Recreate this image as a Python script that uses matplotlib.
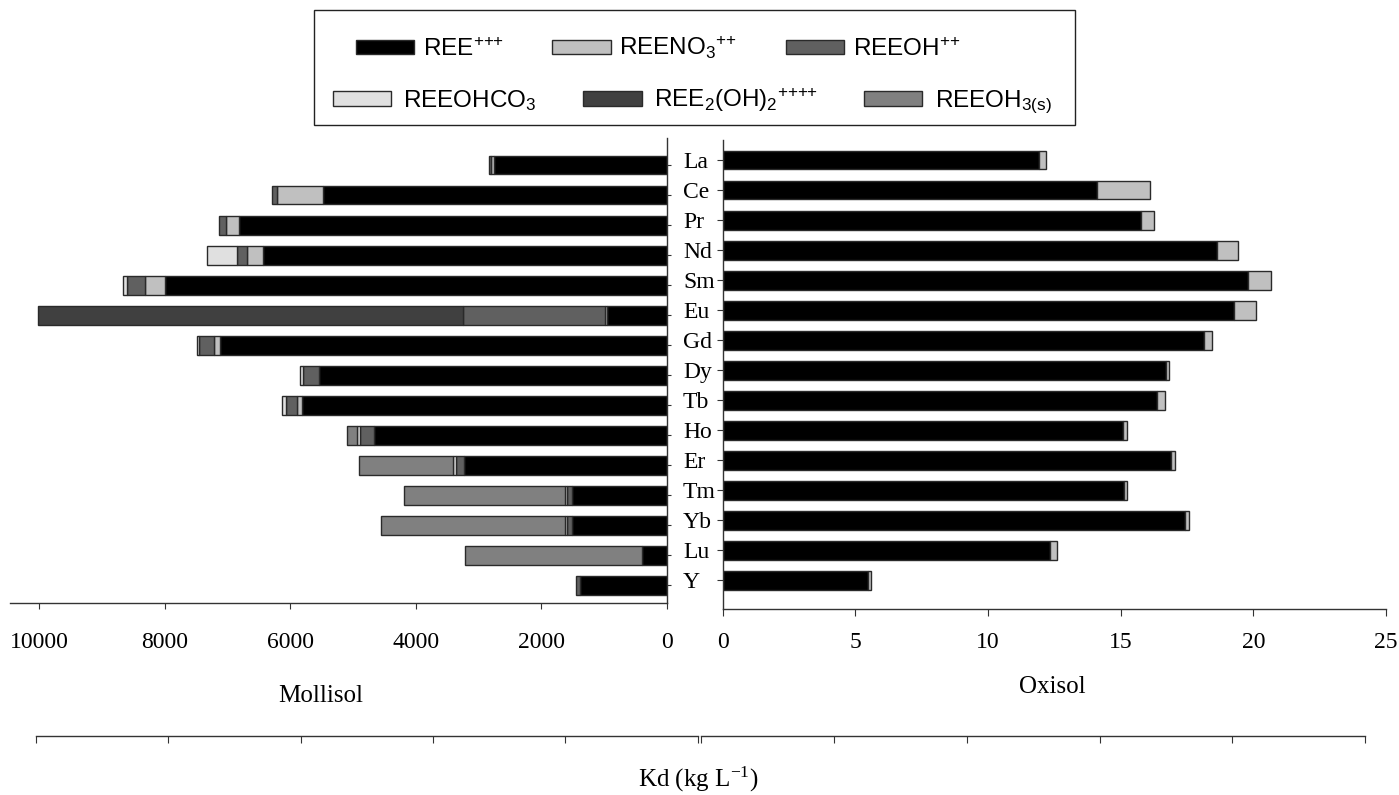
import numpy as np
import matplotlib
matplotlib.use("Agg")
import matplotlib.pyplot as plt
from matplotlib.patches import Patch, Rectangle
from matplotlib.font_manager import FontProperties

plt.rcParams['font.family'] = ['Liberation Serif', 'DejaVu Serif']
plt.rcParams['mathtext.rm'] = 'Liberation Sans'
plt.rcParams['mathtext.it'] = 'Liberation Sans:italic'
plt.rcParams['mathtext.bf'] = 'Liberation Sans:bold'

elements = ['La', 'Ce', 'Pr', 'Nd', 'Sm', 'Eu', 'Gd', 'Dy', 'Tb', 'Ho',
            'Er', 'Tm', 'Yb', 'Lu', 'Y']

# Mollisol Kd by species (kg/L)
moll_ree = [2747, 5471, 6819, 6426, 7988, 951, 7121, 5534, 5810, 4663,
            3229, 1509, 1509, 398, 1381]
moll_no3 = [53, 733, 198, 255, 319, 27, 96, 0, 85, 0, 0, 0, 0, 0, 0]
moll_oh = [30, 80, 117, 165, 297, 2262, 228, 255, 175, 223, 127, 74, 74, 0, 69]
moll_ohco3 = [0, 0, 0, 483, 58, 0, 42, 53, 64, 42, 53, 30, 30, 0, 0]
moll_dimer = [0, 0, 0, 0, 0, 6771, 0, 0, 0, 0, 0, 0, 0, 0, 0]
moll_oh3s = [0, 0, 0, 0, 0, 0, 0, 0, 0, 170, 1487, 2565, 2937, 2815, 0]

# Oxisol Kd by species (kg/L)
oxi_ree = [11.91, 14.10, 15.76, 18.64, 19.81, 19.26, 18.15, 16.71, 16.36,
           15.08, 16.91, 15.11, 17.44, 12.34, 5.49]
oxi_no3 = [0.29, 2.02, 0.49, 0.80, 0.87, 0.83, 0.28, 0.13, 0.31, 0.15,
           0.13, 0.14, 0.15, 0.26, 0.10]

species = [r'REE$^{{+}{+}{+}}$',
           r'REENO$_{\mathregular{3}}$$^{{+}{+}}$',
           r'REEOH$^{{+}{+}}$',
           r'REEOHCO$_{\mathregular{3}}$',
           r'REE$_{\mathregular{2}}$(OH)$_{\mathregular{2}}$$^{{+}{+}{+}{+}}$',
           r'REEOH$_{\mathregular{3(s)}}$']
colors = ['#000000', '#c0c0c0', '#606060', '#e0e0e0', '#404040', '#808080']
edge = '#2a2a2a'

W, H = 1399, 795
fig = plt.figure(figsize=(W / 100, H / 100), dpi=100)


def box(x0, y0, x1, y1):
    return [x0 / W, 1 - y1 / H, (x1 - x0) / W, (y1 - y0) / H]


ax_l = fig.add_axes(box(10, 138, 666.7, 603.3))
ax_r = fig.add_axes(box(722.7, 140, 1386, 609.3))

ypos = np.arange(len(elements))
bh = 0.63


def stack(ax, series, cols):
    left = np.zeros(len(elements))
    for vals, c in zip(series, cols):
        vals = np.asarray(vals, dtype=float)
        idx = vals > 0
        ax.barh(ypos[idx], vals[idx], left=left[idx], height=bh, color=c,
                edgecolor=edge, linewidth=1.0)
        left += vals


stack(ax_l, [moll_ree, moll_no3, moll_oh, moll_ohco3, moll_dimer, moll_oh3s],
      colors)
stack(ax_r, [oxi_ree, oxi_no3], colors[:2])

# left panel (Mollisol), reversed x
ax_l.set_xlim(10462, 0)
ax_l.set_ylim(14.6, -0.9)
ax_l.set_xticks([10000, 8000, 6000, 4000, 2000, 0])
ax_l.set_xticklabels(['10000', '8000', '6000', '4000', '2000', '0'])
ax_l.set_yticks(ypos)
ax_l.set_yticklabels([])
ax_l.yaxis.tick_right()
for s in ['top', 'left']:
    ax_l.spines[s].set_visible(False)
for s in ['right', 'bottom']:
    ax_l.spines[s].set_color('#333333')
    ax_l.spines[s].set_linewidth(1.0)
ax_l.tick_params(axis='x', direction='out', length=4.5, pad=16,
                 labelsize=17, color='#333333')
ax_l.tick_params(axis='y', direction='out', length=3.2, color='#333333')

# right panel (Oxisol)
ax_r.set_xlim(0, 25)
ax_r.set_ylim(14.967, -0.667)
ax_r.set_xticks([0, 5, 10, 15, 20, 25])
ax_r.set_yticks(ypos)
ax_r.set_yticklabels(elements)
for s in ['top', 'right']:
    ax_r.spines[s].set_visible(False)
for s in ['left', 'bottom']:
    ax_r.spines[s].set_color('#333333')
    ax_r.spines[s].set_linewidth(1.0)
ax_r.tick_params(axis='x', direction='out', length=5.3, pad=11,
                 labelsize=17, color='#333333')
ax_r.tick_params(axis='y', direction='out', length=4.3, pad=24.3,
                 labelsize=17, color='#333333')
for lbl in ax_r.get_yticklabels():
    lbl.set_horizontalalignment('left')

# lower scale bars without labels
for x0, x1 in [(35.7, 697.7), (701.3, 1365)]:
    sx = fig.add_axes(box(x0, 726, x1, 736))
    sx.set_xlim(0, 5)
    sx.patch.set_visible(False)
    for s in ['top', 'left', 'right']:
        sx.spines[s].set_visible(False)
    sx.spines['bottom'].set_color('#333333')
    sx.spines['bottom'].set_linewidth(1.0)
    sx.set_yticks([])
    sx.set_xticks(range(6))
    sx.set_xticklabels([])
    sx.set_xticks([0, 5], minor=True)
    sx.tick_params(axis='x', which='major', direction='out', length=5.2,
                   color='#333333')
    sx.tick_params(axis='x', which='minor', direction='in', length=8.6,
                   color='#333333')

fig.text(321 / W, 1 - 696 / H, 'Mollisol', ha='center', va='center',
         fontsize=18)
fig.text(1052 / W, 1 - 687 / H, 'Oxisol', ha='center', va='center',
         fontsize=18)
fig.text(699 / W, 1 - 779 / H, r'Kd (kg L$^{\mathregular{-1}}$)',
         ha='center', va='center', fontsize=18, math_fontfamily='stix')

# legend in two rows inside a frame
fig.patches.append(Rectangle((314 / W, 1 - 125 / H), (1075 - 314) / W,
                             115 / H, transform=fig.transFigure,
                             fill=False, edgecolor='#222222', linewidth=1.0))
handles = [Patch(facecolor=c, edgecolor=edge, linewidth=1.0) for c in colors]
prop = FontProperties(family='Liberation Sans', size=17.5,
                      math_fontfamily='custom')
leg1 = fig.legend(handles[:3], species[:3], loc='center left',
                  bbox_to_anchor=(356 / W, 1 - 48 / H), ncol=3, frameon=False,
                  prop=prop, handlelength=2.4, handleheight=0.56,
                  handletextpad=0.35, columnspacing=2.0, borderpad=0,
                  borderaxespad=0)
leg2 = fig.legend(handles[3:], species[3:], loc='center left',
                  bbox_to_anchor=(333 / W, 1 - 101 / H), ncol=3,
                  frameon=False, prop=prop, handlelength=2.4,
                  handleheight=0.56, handletextpad=0.5, columnspacing=1.9,
                  borderpad=0, borderaxespad=0)

fig.savefig('out.png', dpi=100)
